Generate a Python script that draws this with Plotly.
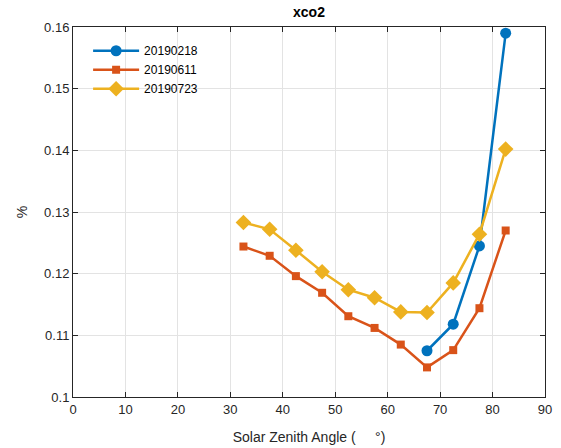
import plotly.graph_objects as go

# Solar zenith angle bin centres (degrees)
sza_all = [32.5, 37.5, 42.5, 47.5, 52.5, 57.5, 62.5, 67.5, 72.5, 77.5, 82.5]
sza_0218 = [67.5, 72.5, 77.5, 82.5]

# xco2 values (%) per acquisition date
xco2_20190218 = [0.1075, 0.1118, 0.1245, 0.1590]
xco2_20190611 = [0.1244, 0.1229, 0.1196, 0.1169, 0.1131, 0.1112, 0.1085, 0.1048, 0.1076, 0.1144, 0.1270]
xco2_20190723 = [0.1283, 0.1272, 0.1238, 0.1203, 0.1174, 0.1161, 0.1138, 0.1137, 0.1185, 0.1264, 0.1402]

x_ticks = list(range(0, 91, 10))
y_ticks = [0.10, 0.11, 0.12, 0.13, 0.14, 0.15, 0.16]
y_tick_text = ["0.1", "0.11", "0.12", "0.13", "0.14", "0.15", "0.16"]

font_family = "Liberation Sans, Arial, sans-serif"

fig = go.Figure()
fig.add_trace(go.Scatter(
    x=sza_0218, y=xco2_20190218, name="20190218", mode="lines+markers",
    line=dict(color="#0072BD", width=2.5),
    marker=dict(symbol="circle", size=11, color="#0072BD"),
))
fig.add_trace(go.Scatter(
    x=sza_all, y=xco2_20190611, name="20190611", mode="lines+markers",
    line=dict(color="#D95319", width=2.5),
    marker=dict(symbol="square", size=8, color="#D95319"),
))
fig.add_trace(go.Scatter(
    x=sza_all, y=xco2_20190723, name="20190723", mode="lines+markers",
    line=dict(color="#EDB120", width=2.5),
    marker=dict(symbol="diamond", size=12, color="#EDB120"),
))

axis_common = dict(
    showgrid=True, gridcolor="#E3E3E3", gridwidth=1,
    showline=True, linecolor="#262626", linewidth=1,
    mirror="allticks", ticks="inside", ticklen=5, tickcolor="#262626",
    tickfont=dict(size=13, color="#262626", family=font_family),
    zeroline=False, automargin=False,
)

fig.update_layout(
    width=561, height=448,
    margin=dict(l=73, r=16, t=27, b=51),
    paper_bgcolor="white", plot_bgcolor="white",
    font=dict(family=font_family, color="#262626"),
    title=dict(text="<b>xco2</b>", x=0.5, xref="paper", y=1, yref="container",
               yanchor="top", pad=dict(t=7), font=dict(size=14, color="#000000")),
    xaxis=dict(range=[0, 90], tickvals=x_ticks,
               title=dict(text="Solar Zenith Angle (     °)", font=dict(size=14), standoff=16),
               **axis_common),
    yaxis=dict(range=[0.1, 0.16], tickvals=y_ticks, ticktext=y_tick_text,
               title=dict(text="%", font=dict(size=14), standoff=13),
               **axis_common),
    legend=dict(x=0.032, y=0.975, xanchor="left", yanchor="top",
                bgcolor="rgba(0,0,0,0)", borderwidth=0,
                font=dict(size=12, color="#000000"), tracegroupgap=0,
                itemwidth=46),
    showlegend=True,
)

fig.write_html("out.html")
